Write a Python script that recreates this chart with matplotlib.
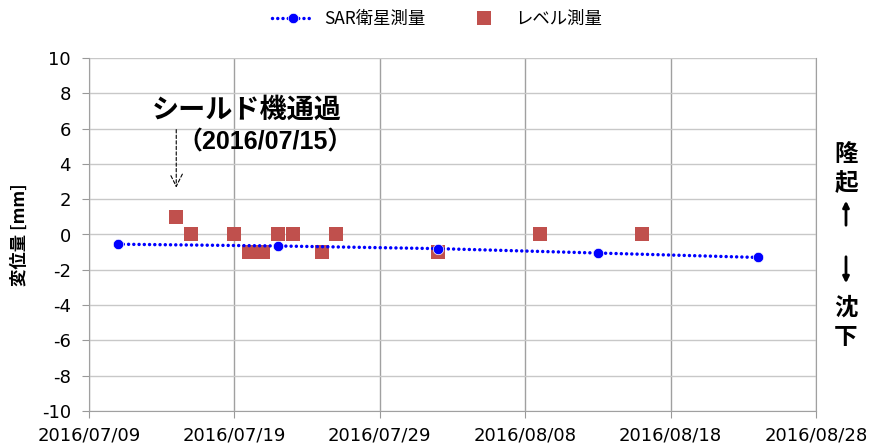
import matplotlib
matplotlib.use("Agg")
import matplotlib.pyplot as plt
from datetime import datetime, timedelta

plt.rcParams['font.family'] = ['Noto Sans CJK JP', 'DejaVu Sans']

# SAR satellite survey
sar_dates = ["2016/07/11", "2016/07/22", "2016/08/02", "2016/08/13", "2016/08/24"]
sar_values = [-0.55, -0.65, -0.8, -1.05, -1.3]

# levelling survey
lvl_dates = ["2016/07/15", "2016/07/16", "2016/07/19", "2016/07/20", "2016/07/21",
             "2016/07/22", "2016/07/23", "2016/07/25", "2016/07/26", "2016/08/02",
             "2016/08/09", "2016/08/16"]
lvl_values = [1, 0, 0, -1, -1, 0, 0, -1, 0, -1, 0, 0]

x_ticks = ["2016/07/09", "2016/07/19", "2016/07/29", "2016/08/08", "2016/08/18", "2016/08/28"]
y_ticks = list(range(-10, 11, 2))

to_dt = lambda s: datetime.strptime(s, "%Y/%m/%d")

W, H = 874, 448
fig = plt.figure(figsize=(W / 100, H / 100), dpi=100)
ax = fig.add_axes([89 / W, 1 - 411 / H, (816 - 89) / W, (411 - 58) / H])

ax.plot([to_dt(d) for d in lvl_dates], lvl_values, linestyle='none', marker='s',
        markersize=9.5, markeredgewidth=0, color='#C0504D', label='レベル測量', zorder=3)
ax.plot([to_dt(d) for d in sar_dates], sar_values, linestyle=(0, (0.01, 1.5)),
        dash_capstyle='round', linewidth=2.5, marker='o', markersize=7.5,
        markeredgecolor='white', markeredgewidth=0.5, color='#0000FF',
        label='SAR衛星測量', zorder=4)

ax.set_xlim(to_dt(x_ticks[0]), to_dt(x_ticks[-1]))
ax.set_ylim(-10, 10)
ax.set_xticks([to_dt(d) for d in x_ticks])
ax.set_xticklabels(x_ticks, family=['DejaVu Sans'], fontsize=13)
ax.set_yticks(y_ticks)
ax.set_yticklabels([str(v) for v in y_ticks], family=['DejaVu Sans'], fontsize=13)
ax.tick_params(axis='y', length=5, color='#999999', pad=8)
ax.tick_params(axis='x', length=5, color='#999999', pad=6)

ax.yaxis.grid(True, color='#c8c8c8', linewidth=1)
ax.xaxis.grid(True, color='#a0a0a0', linewidth=1)
ax.set_axisbelow(True)
ax.spines['top'].set_visible(False)
for s in ['left', 'bottom', 'right']:
    ax.spines[s].set_color('#a0a0a0')

ax.set_ylabel('変位量 [mm]', fontsize=12.5, fontweight='bold')
ax.yaxis.set_label_coords(-0.083, 0.5)

# annotation for shield machine passage
pass_dt = to_dt("2016/07/15")
ax.annotate('', xy=(pass_dt, 2.5), xytext=(pass_dt, 6.1),
            arrowprops=dict(arrowstyle='->', linestyle=(0, (3, 2)), color='black',
                            linewidth=0.8, mutation_scale=22))
ax.text(to_dt("2016/07/09") + timedelta(days=4.3), 7.05, 'シールド機通過', fontsize=19.5,
        fontweight='bold', ha='left', va='center')
ax.text(to_dt("2016/07/09") + timedelta(days=6.1), 5.2, '（2016/07/15）', fontsize=18,
        family=['Liberation Sans', 'Noto Sans CJK JP'],
        fontweight='bold', ha='left', va='center')

# right side labels
xr = 846 / W
for ch, yp in [('隆', 154), ('起', 183), ('沈', 308), ('下', 337)]:
    fig.text(xr, 1 - yp / H, ch, fontsize=17, fontweight='bold', ha='center', va='center')
fig.add_artist(matplotlib.patches.FancyArrowPatch((xr, 1 - 228 / H), (xr, 1 - 198 / H),
               transform=fig.transFigure, arrowstyle='-|>', mutation_scale=9,
               linewidth=2, color='black'))
fig.add_artist(matplotlib.patches.FancyArrowPatch((xr, 1 - 254 / H), (xr, 1 - 286 / H),
               transform=fig.transFigure, arrowstyle='-|>', mutation_scale=9,
               linewidth=2, color='black'))

h, l = ax.get_legend_handles_labels()
fig.legend(h[::-1], l[::-1], loc='center', bbox_to_anchor=(0.5, 0.958), ncol=2,
           frameon=False, fontsize=12.5, handlelength=2.4, handletextpad=0.6,
           columnspacing=2.2)

fig.savefig('out.png', dpi=100)
